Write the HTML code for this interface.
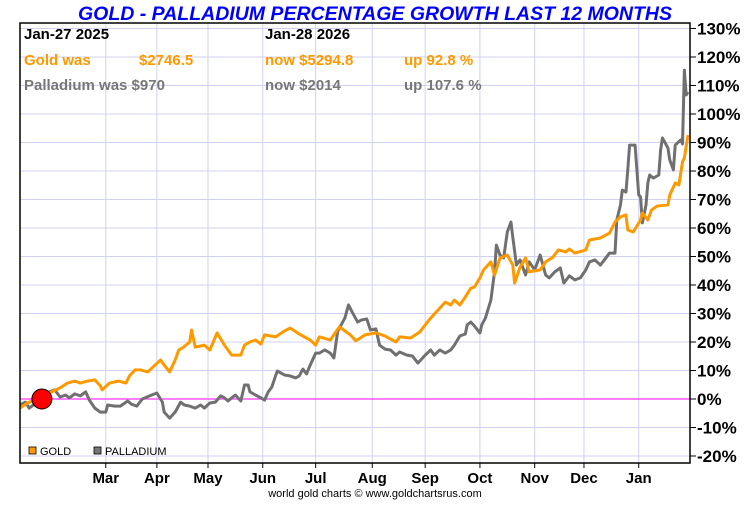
<!DOCTYPE html>
<html><head><meta charset="utf-8"><style>
body{margin:0;background:#fff;width:750px;height:500px;overflow:hidden;font-family:"Liberation Sans",sans-serif}
</style></head><body>
<svg width="750" height="500" id="chart" style="font-family:'Liberation Sans',sans-serif">
<text x="375" y="20" text-anchor="middle" font-size="19.5" font-weight="bold" font-style="italic" fill="#0000ff">GOLD - PALLADIUM PERCENTAGE GROWTH LAST 12 MONTHS</text>
<g id="grid"></g>
<g id="series"></g>
<rect x="20" y="23" width="670" height="440" fill="none" stroke="#000" stroke-width="1.5"/>
<g id="yaxis"></g>
<g id="xaxis"></g>
<g font-size="15" font-weight="bold">
<text x="24" y="39" fill="#000">Jan-27  2025</text>
<text x="265" y="39" fill="#000">Jan-28  2026</text>
<text x="24" y="65" fill="#ff9900">Gold was</text>
<text x="139" y="65" fill="#ff9900">$2746.5</text>
<text x="265" y="65" fill="#ff9900">now $5294.8</text>
<text x="404" y="65" fill="#ff9900">up 92.8 %</text>
<text x="24" y="90" fill="#777">Palladium was $970</text>
<text x="265" y="90" fill="#777">now $2014</text>
<text x="404" y="90" fill="#777">up 107.6 %</text>
</g>
<g font-size="11">
<rect x="29" y="447" width="7" height="7" fill="#ff9900" stroke="#000" stroke-width="0.8"/>
<text x="40" y="455">GOLD</text>
<rect x="94" y="447" width="7" height="7" fill="#777" stroke="#000" stroke-width="0.8"/>
<text x="105" y="455">PALLADIUM</text>
</g>
<text x="375" y="497" text-anchor="middle" font-size="11" fill="#000">world gold charts © www.goldchartsrus.com</text>
</svg>
<script>
const goldDays=[0,3,5,12,16,22,26,30,33,37,41,44,45,49,54,58,60,63,66,70,74,77,79,82,85,87,89,93,94,96,101,104,108,112,116,121,123,126,129,132,134,140,145,148,153,159,162,164,170,175,181,184,189,195,200,206,208,214,219,222,225,229,233,236,238,241,244,247,249,252,254,258,260,263,267,270,271,274,277,279,285,288,292,295,299,301,304,310,312,318,323,326,329,332,333,336,340,341,344,346,349,355,356,359,361,363,364,366];
const goldVals=[-3.2,-1.8,-1.1,0,2.1,3.9,5.6,6.3,5.6,6.3,6.7,4.6,3.2,5.6,6.3,5.6,8.1,10.2,10.2,9.5,11.9,13.7,11.9,9.5,13.7,17.2,17.9,20,24.2,18.2,18.9,17.2,23.2,18.9,15.4,15.4,18.9,20,20.7,19.3,22.5,21.8,23.9,24.9,22.8,20.7,18.9,21.8,20.7,25.3,22.5,20.4,22.5,23.2,22.1,20,21.8,21.4,23.5,26,28.4,31.2,34,33,34.7,33,35.8,38.9,39.3,42.5,45.3,48.1,43.5,49.5,50.5,47,40.7,46.3,49.5,44.6,45.3,48.1,49.8,52.3,51.6,52.6,51.2,52.3,55.8,56.5,58.2,62.1,63.9,64.6,59.3,58.6,62.8,65.3,62.8,66.3,67.7,68.1,71.6,75.8,75.1,83.2,84.6,92.6];
const pallDays=[0,3,5,8,14,16,19,22,25,27,30,33,36,38,41,44,47,48,52,55,59,61,64,67,71,75,78,79,82,85,88,90,93,96,99,101,104,107,110,112,114,116,118,121,123,125,126,129,132,134,136,138,140,141,145,148,151,153,155,157,159,162,164,167,170,172,174,175,178,180,182,185,187,190,192,195,197,200,203,206,208,212,215,218,222,225,227,230,233,236,238,241,244,245,247,249,252,253,255,258,260,261,263,265,267,269,270,272,274,277,279,282,285,288,290,293,296,298,301,304,307,310,312,315,318,321,323,326,327,329,330,332,333,334,337,339,340,341,343,344,345,347,350,351,352,355,356,358,359,362,363,364,365,366];
const pallVals=[-2.1,-1.1,-3.2,-1.8,1.1,2.5,3.2,0.7,1.4,0.4,1.8,1.1,2.5,-0.4,-3.2,-4.6,-4.6,-2.1,-2.5,-2.5,-0.7,-1.8,-2.5,0,1.1,2.1,-1.1,-4.6,-6.7,-4.6,-1.1,-2.1,-2.5,-3.2,-2.1,-3.2,-1.4,-1.1,1.1,0.4,-0.7,0.4,1.4,-0.7,4.9,4.9,2.5,1.4,0.4,-0.4,2.5,4.2,8.1,9.8,8.4,8.1,7.4,8.1,10.5,8.8,11.9,16.1,16.1,17.2,16.1,14.4,23.5,24.9,28.4,33,30.5,27,27.7,28.1,24.2,24.6,18.9,17.5,17.2,15.4,16.5,15.4,15.1,12.6,15.4,17.2,15.4,17.2,16.1,17.2,18.9,22.1,22.8,26,27,25.6,23.2,26,28.4,34.7,44.6,54,50.5,49.5,58.6,62.1,56.8,47,48.8,43.5,48.1,45.3,50.5,43.5,42.5,44.6,46,40.7,43.2,41.8,42.5,45.3,48.1,48.8,47,49.5,51.2,51.2,62.8,68.1,73.3,72.6,80.4,89.1,89.1,71.6,70.9,61.8,68.1,75.8,78.6,77.5,78.6,87.4,91.6,88.1,83.9,80.4,89.1,90.9,89.5,115.4,106.7,107.7];
const yTicks=[130,120,110,100,90,80,70,60,50,40,30,20,10,0,-10,-20];
const monthLabels=["Mar","Apr","May","Jun","Jul","Aug","Sep","Oct","Nov","Dec","Jan"];
const monthDays=[47,75,103,133,162,193,222,252,282,309,339];
const NS="http://www.w3.org/2000/svg";
const xS=d=>20+d/366*668;
const yS=v=>399-v*2.85;
function mk(t,a,p){const e=document.createElementNS(NS,t);for(const k in a)e.setAttribute(k,a[k]);p.appendChild(e);return e;}
const grid=document.getElementById('grid'),ya=document.getElementById('yaxis'),xa=document.getElementById('xaxis'),ser=document.getElementById('series');
yTicks.forEach(v=>{
 const l=mk('line',{x1:20,x2:690,y1:yS(v),y2:yS(v),stroke:'#d0d0f0','stroke-width':1},grid);
 
 
 const t=mk('line',{x1:690,x2:696,y1:yS(v),y2:yS(v),stroke:'#000'},ya);
 
 
 const tx=mk('text',{x:697,y:yS(v)+6,'font-size':17,'font-weight':'bold'},ya);
 tx.textContent=v+'%';
 
 
});
monthDays.forEach((d,i)=>{
 const l=mk('line',{x1:xS(d),x2:xS(d),y1:23,y2:463,stroke:'#d0d0f0','stroke-width':1},grid);
 
 
 const t=mk('line',{x1:xS(d),x2:xS(d),y1:463,y2:468,stroke:'#000'},xa);
 
 
 const tx=mk('text',{x:xS(d),y:483,'font-size':15,'font-weight':'bold','text-anchor':'middle'},xa);
 tx.textContent=monthLabels[i];
 
 
});
const z=mk('line',{x1:20,x2:690,y1:yS(0),y2:yS(0),stroke:'#ff33ff','stroke-width':1.2},ser);


function line(days,vals,col,name){
 const p=mk('polyline',{points:days.map((d,i)=>xS(d)+','+yS(vals[i])).join(' '),fill:'none',stroke:col,'stroke-width':3,'stroke-linejoin':'round'},ser);
 
 
}
line(pallDays,pallVals,'#707070','palladium-line');
line(goldDays,goldVals,'#ff9900','gold-line');
const dot=mk('circle',{cx:xS(12),cy:yS(0),r:10,fill:'#ff0000',stroke:'#000','stroke-width':1},ser);


</script>
</body></html>
